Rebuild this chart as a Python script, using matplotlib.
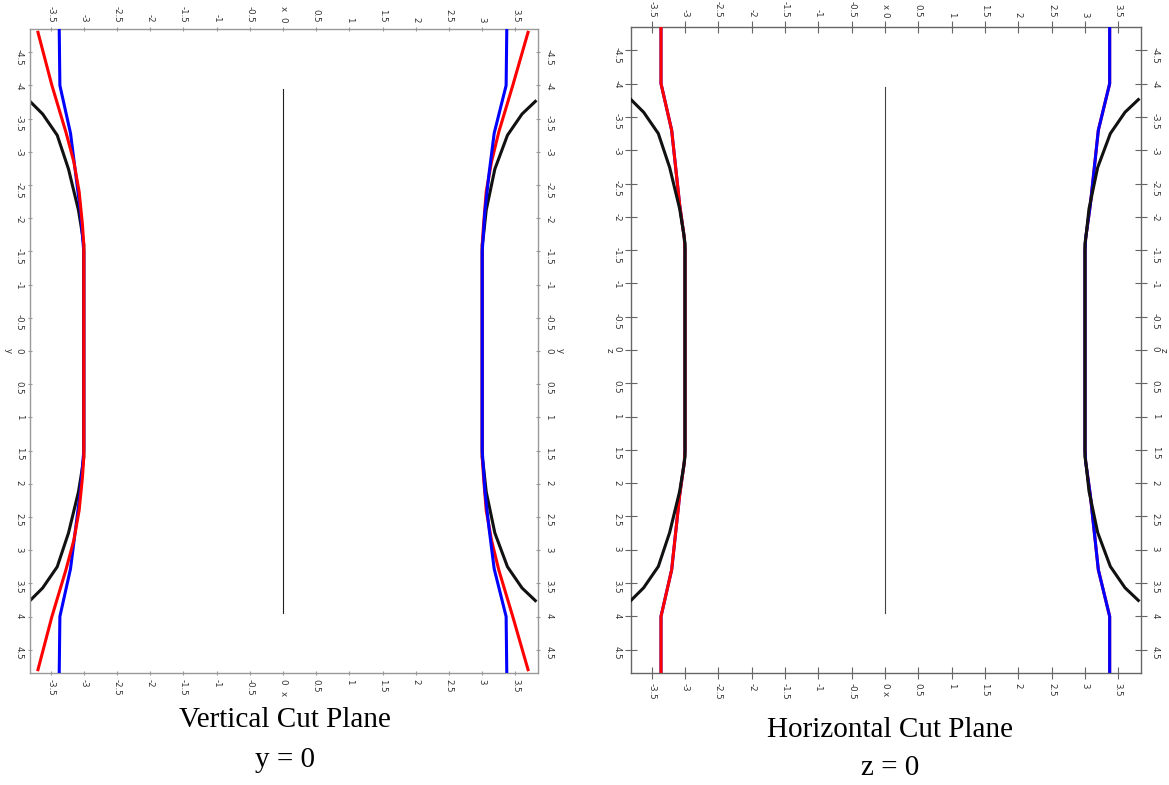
import matplotlib
matplotlib.use("Agg")
import matplotlib.pyplot as plt
import numpy as np

plt.rcParams['axes.unicode_minus'] = False

# ---------------- data ----------------
X_TICKS = [-3.5, -3, -2.5, -2, -1.5, -1, -0.5, 0, 0.5, 1, 1.5, 2, 2.5, 3, 3.5]
Y_TICKS = [-4.5, -4, -3.5, -3, -2.5, -2, -1.5, -1, -0.5, 0, 0.5, 1, 1.5, 2, 2.5, 3, 3.5, 4, 4.5]

CENTER_Y = [-3.95, 3.95]
CENTER_X = [0.0, 0.0]

# Vertical cut plane (y = 0)
V_RED_Y = [-4.80, -4.00, -3.30, -2.85, -2.40, -1.90, -1.60, 1.60, 1.90, 2.40, 2.85, 3.30, 4.00, 4.80]
V_RED_XL = [-3.69, -3.48, -3.27, -3.15, -3.07, -3.02, -3.00, -3.00, -3.02, -3.07, -3.15, -3.27, -3.48, -3.69]
V_RED_XR = [3.69, 3.46, 3.25, 3.14, 3.06, 3.02, 3.00, 3.00, 3.02, 3.06, 3.14, 3.25, 3.46, 3.69]
V_BLUE_Y = [-4.85, -4.00, -3.28, -2.65, -2.10, -1.50, 1.50, 2.10, 2.65, 3.28, 4.00, 4.85]
V_BLUE_XL = [-3.37, -3.36, -3.20, -3.12, -3.05, -3.00, -3.00, -3.05, -3.12, -3.20, -3.36, -3.37]
V_BLUE_XR = [3.37, 3.36, 3.18, 3.10, 3.04, 3.00, 3.00, 3.04, 3.10, 3.18, 3.36, 3.37]

# Black curve (same in both planes)
BLACK_Y = [-3.76, -3.57, -3.25, -2.74, -2.12, -1.75, -1.60, 1.60, 1.75, 2.12, 2.74, 3.25, 3.57, 3.76]
BLACK_XL = [-3.81, -3.62, -3.40, -3.23, -3.08, -3.02, -3.00, -3.00, -3.02, -3.08, -3.23, -3.40, -3.62, -3.81]
BLACK_XR = [3.80, 3.60, 3.38, 3.19, 3.06, 3.02, 3.00, 3.00, 3.02, 3.06, 3.19, 3.38, 3.60, 3.80]

# Horizontal cut plane (z = 0)
H_Y = [-4.85, -4.00, -3.30, -2.18, -1.68, -1.50, 1.50, 1.68, 2.18, 3.30, 4.00, 4.85]
H_RED_XL = [-3.36, -3.36, -3.20, -3.08, -3.01, -3.00, -3.00, -3.01, -3.08, -3.20, -3.36, -3.36]
H_BLUE_XR = [3.37, 3.37, 3.20, 3.08, 3.01, 3.00, 3.00, 3.01, 3.08, 3.20, 3.37, 3.37]

CAPTIONS = [("Vertical Cut Plane", "y = 0"), ("Horizontal Cut Plane", "z = 0")]
AXIS_NAMES = [("x", "y"), ("x", "z")]

# ---------------- figure ----------------
fig = plt.figure(figsize=(11.69, 7.85), dpi=100)
ax1 = fig.add_axes([30/1169, 1-673/785, 508/1169, 644/785])
ax2 = fig.add_axes([631/1169, 1-673/785, 510/1169, 646/785])

LW = 2.2

def fmt(v):
    return ("%g" % v)

def style_axes(ax, tick_len, spine_col, names):
    ax.set_xlim(-3.81, 3.84)
    ax.set_ylim(4.85, -4.85)
    ax.set_xticks(X_TICKS)
    ax.set_yticks(Y_TICKS)
    ax.set_xticklabels([fmt(v) for v in X_TICKS])
    ax.set_yticklabels([fmt(v) for v in Y_TICKS])
    ax.tick_params(axis='both', which='both', direction='inout', length=tick_len,
                   width=0.8, color=spine_col, labelsize=6.2, labelcolor='#333333',
                   top=True, bottom=True, left=True, right=True,
                   labeltop=True, labelbottom=True, labelleft=True, labelright=True,
                   pad=3)
    for lab in ax.get_xticklabels() + ax.get_yticklabels():
        lab.set_rotation(270)
    for sp in ax.spines.values():
        sp.set_color(spine_col)
        sp.set_linewidth(1.0)
    xn, yn = names
    kw = dict(fontsize=6.2, color='#333333', rotation=270, ha='center', va='center')
    ax.annotate(xn, xy=(0, 1), xycoords=('data', 'axes fraction'), xytext=(0, 15),
                textcoords='offset points', **kw)
    ax.annotate(xn, xy=(0, 0), xycoords=('data', 'axes fraction'), xytext=(0, -15),
                textcoords='offset points', **kw)
    ax.annotate(yn, xy=(0, 0), xycoords=('axes fraction', 'data'), xytext=(-16, 0),
                textcoords='offset points', **kw)
    ax.annotate(yn, xy=(1, 0), xycoords=('axes fraction', 'data'), xytext=(16, 0),
                textcoords='offset points', **kw)

# ---- panel 1 ----
ax1.plot(CENTER_X, CENTER_Y, color='#222222', lw=0.8, zorder=1)
ax1.plot(BLACK_XL, BLACK_Y, color='#111111', lw=LW, zorder=2)
ax1.plot(BLACK_XR, BLACK_Y, color='#111111', lw=LW, zorder=2)
ax1.plot(V_BLUE_XL, V_BLUE_Y, color='#0000ff', lw=LW, zorder=3)
ax1.plot(V_RED_XL, V_RED_Y, color='#ff0000', lw=LW, zorder=4)
ax1.plot(V_RED_XR, V_RED_Y, color='#ff0000', lw=LW, zorder=3)
ax1.plot(V_BLUE_XR, V_BLUE_Y, color='#0000ff', lw=LW, zorder=4)
style_axes(ax1, 3, '#999999', AXIS_NAMES[0])

# ---- panel 2 ----
ax2.plot(CENTER_X, CENTER_Y, color='#444444', lw=0.8, zorder=1)
ax2.plot(H_RED_XL, H_Y, color='#0000ff', lw=LW, zorder=2)
ax2.plot(H_RED_XL, H_Y, color='#ff0000', lw=LW, zorder=3)
ax2.plot(H_BLUE_XR, H_Y, color='#ff0000', lw=LW, zorder=2)
ax2.plot(H_BLUE_XR, H_Y, color='#0000ff', lw=LW, zorder=3)
ax2.plot(BLACK_XL, BLACK_Y, color='#111111', lw=LW, zorder=4)
ax2.plot(BLACK_XR, BLACK_Y, color='#111111', lw=LW, zorder=4)
style_axes(ax2, 8, '#666666', AXIS_NAMES[1])

# ---- captions ----
cap_kw = dict(fontsize=21, family=['Liberation Serif', 'DejaVu Serif'], ha='center', va='center')
fig.text(285/1169, 1-720/785, CAPTIONS[0][0], **cap_kw)
fig.text(285/1169, 1-760/785, CAPTIONS[0][1], **cap_kw)
fig.text(890/1169, 1-730/785, CAPTIONS[1][0], **cap_kw)
fig.text(890/1169, 1-768/785, CAPTIONS[1][1], **cap_kw)

fig.savefig("out.png", dpi=100, facecolor='white')
